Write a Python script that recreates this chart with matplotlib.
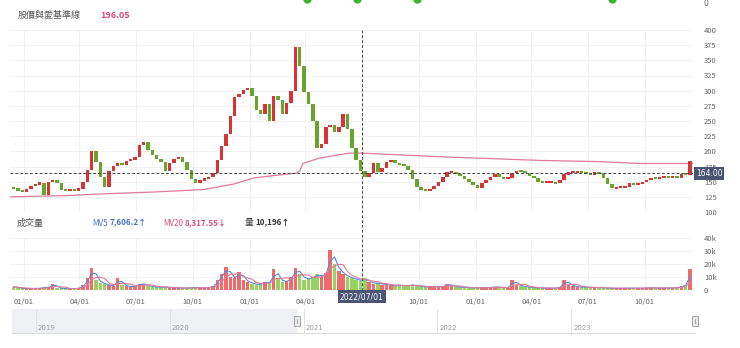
import matplotlib
matplotlib.use("Agg")
import matplotlib.pyplot as plt
import matplotlib.dates as mdates
import numpy as np
import pandas as pd
from matplotlib.lines import Line2D
from matplotlib.patches import Rectangle

plt.rcParams['font.family'] = ['Noto Sans CJK TC', 'DejaVu Sans']

# weekly closes (NT$), one per week starting 2020-12-16
first_open = 140
closes = [138, 136, 133, 138, 143, 146, 148, 128, 150, 152,
          147, 137, 136, 137, 136, 138, 150, 170, 200, 183,
          158, 142, 168, 176, 181, 178, 184, 186, 191, 210,
          216, 203, 194, 188, 182, 168, 180, 188, 190, 183,
          170, 155, 148, 152, 155, 158, 165, 186, 208, 228,
          258, 290, 295, 301, 304, 292, 268, 262, 278, 250,
          292, 285, 262, 280, 300, 372, 340, 298, 278, 250,
          205, 212, 240, 243, 232, 240, 262, 236, 205, 186,
          168, 158, 165, 180, 166, 172, 182, 186, 181, 178,
          176, 170, 155, 142, 137, 135, 138, 143, 149, 158,
          166, 166, 163, 160, 155, 150, 144, 140, 148, 153,
          158, 163, 158, 155, 156, 164, 168, 167, 164, 160,
          156, 150, 148, 150, 150, 147, 152, 162, 165, 166,
          166, 165, 164, 162, 165, 164, 156, 146, 140, 140,
          141, 142, 147, 145, 146, 149, 153, 156, 155, 157,
          158, 157, 158, 156, 163, 161, 184]

# volume in thousands of shares
volumes = [2.5, 1.5, 1.2, 1.0, 1.3, 1.1, 1.4, 2.0, 2.0, 5.0,
           1.5, 1.2, 1.0, 1.1, 1.0, 1.6, 4.0, 9.0, 17.0, 8.0,
           5.5, 4.5, 3.5, 3.0, 9.0, 4.0, 3.0, 2.5, 3.0, 5.0,
           4.5, 3.0, 2.5, 2.0, 2.5, 2.0, 1.8, 1.5, 1.6, 1.4,
           1.5, 1.8, 2.0, 1.6, 1.5, 2.0, 3.0, 8.0, 12.0, 18.0,
           10.0, 9.0, 14.0, 8.0, 6.0, 5.0, 4.0, 5.0, 6.0, 5.0,
           16.0, 9.0, 6.0, 7.0, 10.0, 17.0, 12.0, 8.0, 9.0, 10.0,
           12.0, 10.0, 13.0, 31.0, 20.0, 15.0, 12.0, 10.0, 9.0, 8.0,
           7.0, 9.0, 6.0, 5.0, 5.5, 4.0, 4.5, 3.5, 3.0, 4.0,
           3.0, 3.5, 4.0, 3.0, 2.5, 2.0, 3.0, 2.5, 2.5, 2.5,
           5.0, 3.0, 2.5, 2.0, 2.0, 1.8, 1.6, 1.5, 2.0, 1.8,
           2.0, 2.5, 2.0, 1.6, 1.8, 8.0, 4.0, 3.0, 2.5, 2.0,
           1.8, 1.5, 1.4, 1.5, 1.3, 1.5, 2.5, 8.0, 4.0, 3.0,
           2.5, 2.0, 2.2, 1.8, 2.0, 1.8, 1.5, 1.4, 1.3, 1.2,
           1.4, 1.3, 1.5, 1.4, 1.3, 1.5, 1.6, 1.8, 1.5, 1.4,
           1.6, 1.5, 1.7, 1.8, 3.0, 4.0, 16.0]

# long baseline average
base_dates = ['2020-12-10', '2021-03-09', '2021-05-12', '2021-07-31', '2021-10-19',
              '2021-12-06', '2022-01-07', '2022-02-08', '2022-03-17', '2022-03-23',
              '2022-03-28', '2022-04-24', '2022-05-23', '2022-06-11', '2022-07-02',
              '2022-09-04', '2022-11-07', '2023-04-16', '2023-07-21', '2023-09-23',
              '2023-12-18']
base_vals = [125, 127, 130, 133, 137, 146, 156, 160, 164, 168,
             180, 189, 194, 197, 197, 194, 191, 185, 183, 180, 180]

tick_dates = ['2021-01-01', '2021-04-01', '2021-07-01', '2021-10-01',
              '2022-01-01', '2022-04-01', '2022-07-01', '2022-10-01',
              '2023-01-01', '2023-04-01', '2023-07-01', '2023-10-01']
tick_labels = ['01/01', '04/01', '07/01', '10/01', '01/01', '04/01', '',
               '10/01', '01/01', '04/01', '07/01', '10/01']
years = ['2019', '2020', '2021', '2022', '2023']
signal_dates = ['2022-04-04', '2022-06-24', '2022-09-28', '2023-08-09']

cross_date = '2022-07-01'
cross_price = 164.00

dates = pd.date_range('2020-12-16', periods=len(closes), freq='7D')
closes = np.array(closes, dtype=float)
opens = np.concatenate([[first_open], closes[:-1]])
up = closes >= opens
vol = pd.Series(volumes)
mv5 = vol.rolling(2, min_periods=1).mean()
mv20 = vol.rolling(4, min_periods=1).mean()

RED, GREEN = '#d83434', '#66a62c'
VRED, VGREEN = '#f06a6a', '#98d163'
PINK, BLUE = '#e07a98', '#5a8bd6'

W, H = 740, 348
fig = plt.figure(figsize=(W / 100, H / 100), dpi=100)


def box(l, t, r, b):
    return [l / W, 1 - b / H, (r - l) / W, (b - t) / H]


def text_run(x, y, parts):
    # consecutive pieces of text on one line, each with its own style
    r = fig.canvas.get_renderer()
    for s, kw in parts:
        t = fig.text(x / W, 1 - y / H, s, va='center', **kw)
        x += t.get_window_extent(renderer=r).width + 2


ax = fig.add_axes(box(10, 30, 693, 212))
axv = fig.add_axes(box(10, 238, 693, 290))
axn = fig.add_axes(box(12, 309, 695, 333))
axt = fig.add_axes(box(10, 0, 693, 10))

xlim = (pd.Timestamp('2020-12-10'), pd.Timestamp('2023-12-18'))

# candles: thin bodies get a minimum visible height around their midpoint
mids = (opens + closes) / 2
heights = np.maximum(np.abs(closes - opens), 3.5)
ax.bar(dates, heights, bottom=mids - heights / 2, width=5.5,
       color=np.where(up, RED, GREEN), linewidth=0, zorder=3)
ax.plot(pd.to_datetime(base_dates), base_vals, color=PINK, lw=0.9, zorder=2)
ax.axhline(cross_price, color='#444', lw=0.7, ls=(0, (3, 2)), zorder=4)

ax.set_xlim(*xlim)
ax.set_ylim(100, 400)
ax.set_yticks(range(100, 401, 25))
ax.yaxis.tick_right()
ax.set_xticks(pd.to_datetime(tick_dates))
ax.tick_params(axis='y', length=0, pad=8, labelsize=5.5, labelcolor='#666')
ax.tick_params(axis='x', length=0, labelbottom=False)
ax.grid(True, color='#f0f0f0', lw=0.6)
ax.set_axisbelow(True)
for s in ax.spines.values():
    s.set_visible(False)
ax.text(1.004, cross_price, f'{cross_price:.2f}', transform=ax.get_yaxis_transform(),
        ha='left', va='center', fontsize=5.5, color='white', family='DejaVu Sans',
        bbox=dict(boxstyle='square,pad=0.25', fc='#4b5472', ec='none'), zorder=6)

# volume
axv.bar(dates, volumes, width=5.5, color=np.where(up, VRED, VGREEN), linewidth=0, zorder=3)
axv.plot(dates, mv5, color=BLUE, lw=0.8, zorder=4)
axv.plot(dates, mv20, color=PINK, lw=0.8, zorder=4)
axv.set_xlim(*xlim)
axv.set_ylim(0, 40)
axv.set_yticks([0, 10, 20, 30, 40])
axv.set_yticklabels(['0', '10k', '20k', '30k', '40k'])
axv.yaxis.tick_right()
axv.set_xticks(pd.to_datetime(tick_dates))
axv.set_xticklabels(tick_labels)
axv.tick_params(axis='y', length=0, pad=8, labelsize=5.5, labelcolor='#666')
axv.tick_params(axis='x', length=0, pad=6, labelsize=5.5, labelcolor='#666')
axv.grid(True, color='#f0f0f0', lw=0.6)
axv.set_axisbelow(True)
for s in axv.spines.values():
    s.set_visible(False)

# crosshair through both panels
xc = ax.transData.transform((mdates.date2num(pd.Timestamp(cross_date)), 0))[0]
xf = fig.transFigure.inverted().transform((xc, 0))[0]
fig.add_artist(Line2D([xf, xf], [1 - 30 / H, 1 - 290 / H], transform=fig.transFigure,
                      color='#444', lw=0.7, ls=(0, (3, 2))))
fig.text(xf, 1 - 296.5 / H, pd.Timestamp(cross_date).strftime('%Y/%m/%d'),
         ha='center', va='center', fontsize=5.5, color='white', family='DejaVu Sans',
         bbox=dict(boxstyle='square,pad=0.3', fc='#4b5472', ec='none'))

# navigator
nav_lim = (pd.Timestamp('2018-10-28'), pd.Timestamp('2023-12-05'))
axn.set_xlim(*nav_lim)
axn.set_ylim(0, 1)
axn.axvspan(nav_lim[0], pd.Timestamp('2020-12-13'), color='#eef0f3', lw=0)
for y in years:
    d = pd.Timestamp(f'{y}-01-01')
    axn.axvline(d, color='#e2e2e2', lw=0.7)
    axn.text(d + pd.Timedelta(days=6), 0.22, y, fontsize=5, color='#999',
             family='DejaVu Sans', va='center')
for d in [pd.Timestamp('2020-12-13'), nav_lim[1]]:
    axn.add_patch(Rectangle((d - pd.Timedelta(days=8), 0.3), pd.Timedelta(days=16), 0.42,
                            fc='#e9e9e9', ec='#999', lw=0.6, clip_on=False, zorder=5))
    axn.plot([d, d], [0.42, 0.6], color='#888', lw=0.5, clip_on=False, zorder=6)
axn.set_xticks([])
axn.set_yticks([])
for k in ['top', 'left', 'right']:
    axn.spines[k].set_visible(False)
axn.spines['bottom'].set_color('#dddddd')
axn.spines['bottom'].set_linewidth(0.8)

# edge of the panel above
axt.set_xlim(*xlim)
axt.set_ylim(0, 1)
axt.plot(pd.to_datetime(signal_dates), [1.15] * len(signal_dates), 'o',
         color='#3bb52a', ms=6, mec='none')
axt.axis('off')
fig.text(703 / W, 1 - 3 / H, '0', fontsize=5.5, color='#666', va='center', family='DejaVu Sans')

# headers
fig.text(18 / W, 1 - 15 / H, '股價與愛基準線', fontsize=6.5, color='#555', va='center')
fig.text(100 / W, 1 - 15 / H, '196.05', fontsize=6.5, color='#d9477a', va='center',
         fontweight='bold')
fig.text(17 / W, 1 - 223 / H, '成交量', fontsize=6.5, color='#555', va='center')
text_run(92, 223, [('MV5', dict(fontsize=5.8, color='#4a72c4')),
                   ('7,606.2↑', dict(fontsize=5.8, color='#4a72c4', fontweight='bold'))])
text_run(163, 223, [('MV20', dict(fontsize=5.8, color='#d9507a')),
                    ('8,317.55↓', dict(fontsize=5.8, color='#d9507a', fontweight='bold'))])
text_run(245, 223, [('量', dict(fontsize=6.3, color='#444')),
                    ('10,196↑', dict(fontsize=5.8, color='#333', fontweight='bold'))])

fig.savefig('out.png', dpi=100, facecolor='white')
